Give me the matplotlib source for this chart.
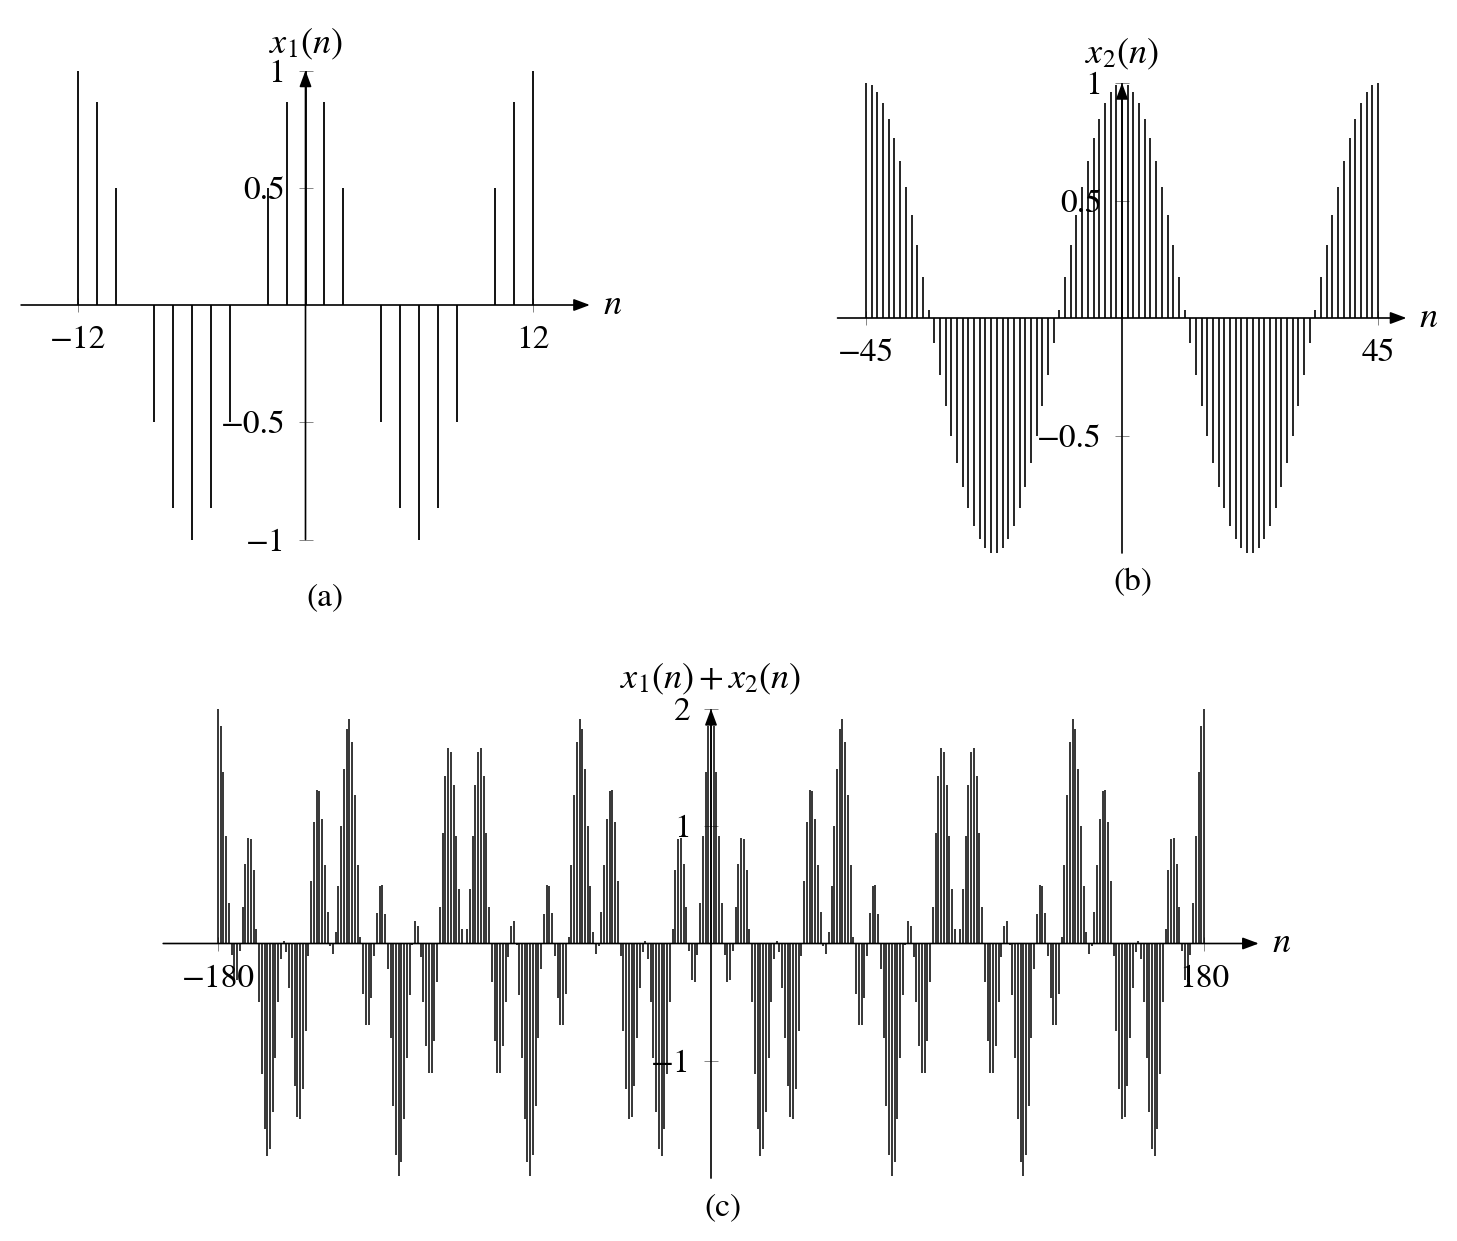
import matplotlib
matplotlib.use("Agg")
import matplotlib.pyplot as plt

# ---------------- data ----------------
n_a = list(range(-12, 13))
x1_a = [1.0, 0.866, 0.5, 0.0, -0.5, -0.866, -1.0, -0.866, -0.5, 0.0, 0.5, 0.866,
        1.0,
        0.866, 0.5, 0.0, -0.5, -0.866, -1.0, -0.866, -0.5, 0.0, 0.5, 0.866, 1.0]

n_b = list(range(-45, 46))
x2_b = [1.0, 0.990, 0.961, 0.914, 0.848, 0.766, 0.669, 0.559, 0.438, 0.309, 0.174, 0.035,
        -0.105, -0.242, -0.375, -0.5, -0.616, -0.719, -0.809, -0.883, -0.940, -0.978,
        -0.998, -0.998, -0.978, -0.940, -0.883, -0.809, -0.719, -0.616, -0.5, -0.375,
        -0.242, -0.105, 0.035, 0.174, 0.309, 0.438, 0.559, 0.669, 0.766, 0.848, 0.914,
        0.961, 0.990,
        1.0,
        0.990, 0.961, 0.914, 0.848, 0.766, 0.669, 0.559, 0.438, 0.309, 0.174, 0.035,
        -0.105, -0.242, -0.375, -0.5, -0.616, -0.719, -0.809, -0.883, -0.940, -0.978,
        -0.998, -0.998, -0.978, -0.940, -0.883, -0.809, -0.719, -0.616, -0.5, -0.375,
        -0.242, -0.105, 0.035, 0.174, 0.309, 0.438, 0.559, 0.669, 0.766, 0.848, 0.914,
        0.961, 0.990, 1.0]

# (c) is x1(n) + x2(n) over n = -180..180 (x1 period 12, x2 period 45)
n_c = list(range(-180, 181))
x_c = [x1_a[12 + (n % 12)] + x2_b[45 + (n % 45)] for n in n_c]

xt_a, xtl_a = [-12, 12], ["\u221212", "12"]
yt_a, ytl_a = [-1, -0.5, 0.5, 1], ["\u22121", "\u22120.5", "0.5", "1"]
xt_b, xtl_b = [-45, 45], ["\u221245", "45"]
yt_b, ytl_b = [-0.5, 0.5, 1], ["\u22120.5", "0.5", "1"]
xt_c, xtl_c = [-180, 180], ["\u2212180", "180"]
yt_c, ytl_c = [-1, 1, 2], ["\u22121", "1", "2"]

# ---------------- style ----------------
W, H = 1457, 1241
plt.rcParams["font.family"] = ["STIXGeneral", "DejaVu Serif"]
plt.rcParams["mathtext.fontset"] = "stix"
FS = 24
FS_M = 26

fig = plt.figure(figsize=(W / 100, H / 100), dpi=100)
fig.patch.set_facecolor("white")


def make_panel(x0, ppx, xlim, y0, ppy, ylim, yaxis_rng):
    left = x0 + xlim[0] * ppx
    right = x0 + xlim[1] * ppx
    top = y0 - ylim[1] * ppy
    bottom = y0 - ylim[0] * ppy
    ax = fig.add_axes([left / W, 1 - bottom / H, (right - left) / W, (bottom - top) / H])
    ax.set_xlim(xlim)
    ax.set_ylim(ylim)
    ax.patch.set_alpha(0)
    for s in ["top", "right"]:
        ax.spines[s].set_visible(False)
    for s in ["left", "bottom"]:
        ax.spines[s].set_position(("data", 0))
        ax.spines[s].set_color("none")
    ax.tick_params(direction="inout", length=10, width=0.6, color="0.45",
                   labelsize=FS, labelcolor="black")
    ax.tick_params(axis="x", pad=10)
    ax.tick_params(axis="y", pad=9.5)
    ap = dict(arrowstyle="-|>,head_length=0.75,head_width=0.28", lw=1.2, color="black",
              shrinkA=0, shrinkB=0, mutation_scale=13)
    ax.annotate("", xy=(xlim[1], 0), xytext=(xlim[0], 0), arrowprops=ap, zorder=3)
    ax.annotate("", xy=(0, yaxis_rng[1]), xytext=(0, yaxis_rng[0]), arrowprops=ap, zorder=3)
    return ax


def finish(ax, xt, xtl, yt, ytl, ylabel, ytop, xmax, lab_off):
    ax.set_xticks(xt)
    ax.set_xticklabels(xtl)
    ax.set_yticks(yt)
    ax.set_yticklabels(ytl)
    ax.annotate(ylabel, xy=(0, ytop), xytext=(0, lab_off), textcoords="offset pixels",
                ha="center", va="bottom", fontsize=FS_M, annotation_clip=False)
    ax.annotate(r"$n$", xy=(xmax, 0), xytext=(13, 0), textcoords="offset pixels",
                ha="left", va="center", fontsize=FS_M, annotation_clip=False)


# (a)
ax_a = make_panel(305.5, 18.96, (-15, 15), 305, 234.5, (-1.15, 1.15), (-1, 1))
ax_a.vlines(n_a, 0, x1_a, colors="black", lw=1.3, zorder=2)
finish(ax_a, xt_a, xtl_a, yt_a, ytl_a, r"$x_1(n)$", 1, 15, 9)

# (b)
ax_b = make_panel(1122, 5.689, (-50, 50), 318, 235, (-1.15, 1.15), (-1, 1))
ax_b.vlines(n_b, 0, x2_b, colors="black", lw=1.2, zorder=2)
finish(ax_b, xt_b, xtl_b, yt_b, ytl_b, r"$x_2(n)$", 1, 50, 11)

# (c)
ax_c = make_panel(711, 2.739, (-200, 200), 943.5, 117.3, (-2.2, 2.2), (-2, 2))
ax_c.vlines(n_c, 0, x_c, colors="black", lw=1.1, zorder=2)
finish(ax_c, xt_c, xtl_c, yt_c, ytl_c, r"$x_1(n)+x_2(n)$", 2, 200, 12)

for txt, (px, py) in [("(a)", (325, 598)), ("(b)", (1133, 583)), ("(c)", (723, 1208))]:
    fig.text(px / W, 1 - py / H, txt, ha="center", va="center", fontsize=FS)

fig.savefig("out.png", dpi=100, facecolor="white")
